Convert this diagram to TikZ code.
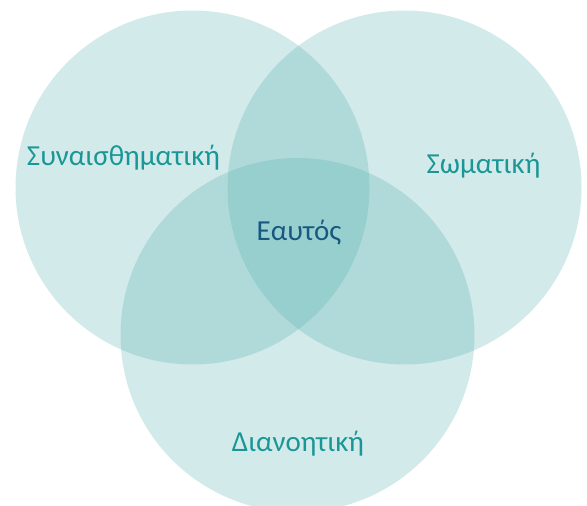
\documentclass[tikz,border=0pt]{standalone}
\usepackage{fontspec}
\setmainfont{Carlito}
\definecolor{vennfill}{RGB}{71,169,169}
\definecolor{labteal}{RGB}{26,150,150}
\definecolor{labdark}{RGB}{22,88,128}
\tikzset{
  venn/.style={fill=vennfill, fill opacity=0.245, draw=none},
  lab/.style={text=labteal, font=\fontsize{29}{32}\selectfont, anchor=base, inner sep=0pt},
  labc/.style={text=labdark, font=\fontsize{29}{32}\selectfont, anchor=base, inner sep=0pt}
}
\begin{document}
\begin{tikzpicture}[x=1pt,y=-1pt]
\useasboundingbox (0,0) rectangle (587,506);
\clip (0,0) rectangle (587,506);
\fill[venn] (192.5,187.5) circle (177);
\fill[venn] (404.5,187.5) circle (177);
\fill[venn] (297.5,335) circle (177);
\node[lab] (emo) at (123.5,165) {Συναισθηματική};
\node[lab] (som) at (483.5,173) {Σωματική};
\node[labc] (self) at (299,240) {Εαυτός};
\node[lab] (nous) at (298,451) {Διανοητική};
\end{tikzpicture}
\end{document}
